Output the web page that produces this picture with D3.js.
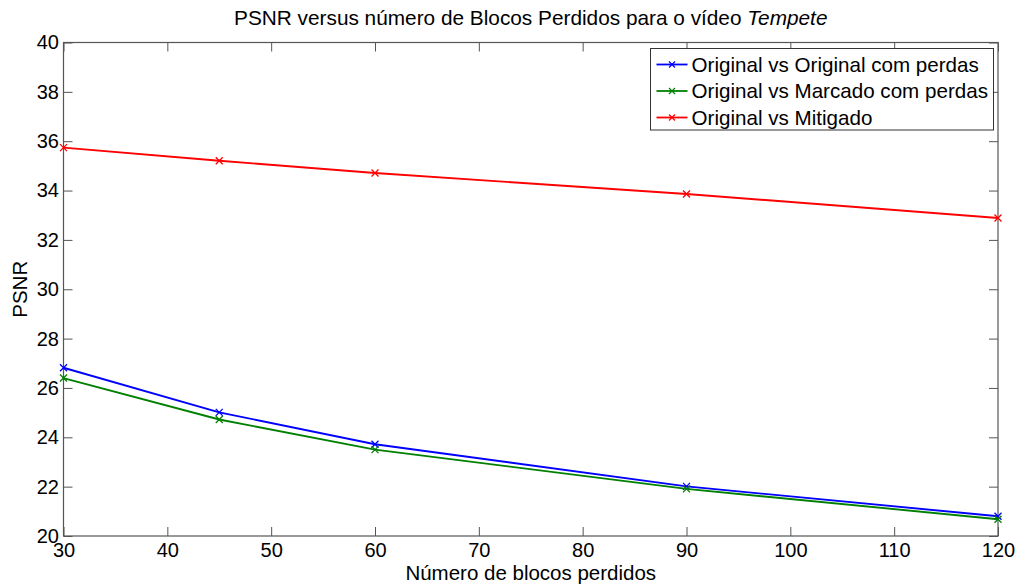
<!DOCTYPE html>
<html>
<head>
<meta charset="utf-8">
<script src="https://cdn.jsdelivr.net/npm/d3@7"></script>
<style>
  html, body { margin: 0; padding: 0; background: #fff; }
  text { font-family: "Liberation Sans", Arial, Helvetica, sans-serif; fill: #000; }
</style>
</head>
<body>
<svg id="chart" width="1020" height="585"></svg>
<script>
// Lost blocks (x axis)
const blocks = [30, 45, 60, 90, 120];
// PSNR series
const origVsOrigLoss = [26.82, 25.01, 23.72, 22.01, 20.80];
const origVsMarkedLoss = [26.40, 24.72, 23.50, 21.91, 20.68];
const origVsMitigated = [35.74, 35.21, 34.71, 33.86, 32.89];

const seriesNames = [
  "Original vs Original com perdas",
  "Original vs Marcado com perdas",
  "Original vs Mitigado"
];
const seriesColors = ["#0000ff", "#008000", "#ff0000"];
const seriesValues = [origVsOrigLoss, origVsMarkedLoss, origVsMitigated];

const xTicks = [30, 40, 50, 60, 70, 80, 90, 100, 110, 120];
const yTicks = [20, 22, 24, 26, 28, 30, 32, 34, 36, 38, 40];

const svg = d3.select("#chart");
const m = { left: 63.5, right: 998, top: 42.5, bottom: 536 };

const x = d3.scaleLinear().domain([30, 120]).range([m.left, m.right]);
const y = d3.scaleLinear().domain([20, 40]).range([m.bottom, m.top]);

const axisColor = "#555";
const tickLen = 9;
const fontSize = 20;
const labelSize = 20.5;

// Axes box with mirrored ticks
const g = svg.append("g");

function styleAxis(sel) {
  sel.select(".domain").remove();
  sel.selectAll(".tick line").attr("stroke", axisColor).attr("stroke-width", 1);
  sel.selectAll(".tick text")
    .style("font-size", fontSize + "px")
    .attr("fill", "#000");
}

g.append("g")
  .attr("transform", `translate(0,${m.bottom})`)
  .call(d3.axisBottom(x).tickValues(xTicks).tickSizeInner(-tickLen).tickSizeOuter(0).tickPadding(7))
  .call(styleAxis);

g.append("g")
  .attr("transform", `translate(0,${m.top})`)
  .call(d3.axisTop(x).tickValues(xTicks).tickSizeInner(-tickLen).tickSizeOuter(0).tickFormat(""))
  .call(styleAxis);

g.append("g")
  .attr("transform", `translate(${m.left},0)`)
  .call(d3.axisLeft(y).tickValues(yTicks).tickSizeInner(-tickLen).tickSizeOuter(0).tickPadding(4.5))
  .call(styleAxis);

g.append("g")
  .attr("transform", `translate(${m.right},0)`)
  .call(d3.axisRight(y).tickValues(yTicks).tickSizeInner(-tickLen).tickSizeOuter(0).tickFormat(""))
  .call(styleAxis);

g.append("rect")
  .attr("x", m.left).attr("y", m.top)
  .attr("width", m.right - m.left).attr("height", m.bottom - m.top)
  .attr("fill", "none").attr("stroke", axisColor).attr("stroke-width", 1.2);

// Series lines and x markers
const line = d3.line().x((d, i) => x(blocks[i])).y(d => y(d));
const mk = 3.5;

seriesValues.forEach((vals, s) => {
  svg.append("path")
    .datum(vals)
    .attr("d", line)
    .attr("fill", "none")
    .attr("stroke", seriesColors[s])
    .attr("stroke-width", 1.9);
  svg.append("g").selectAll("path")
    .data(vals)
    .join("path")
    .attr("d", (d, i) => {
      const cx = x(blocks[i]), cy = y(d);
      return `M${cx - mk},${cy - mk}L${cx + mk},${cy + mk}M${cx - mk},${cy + mk}L${cx + mk},${cy - mk}`;
    })
    .attr("stroke", seriesColors[s])
    .attr("stroke-width", 1.3)
    .attr("fill", "none");
});

// Legend
const lg = svg.append("g");
lg.append("rect")
  .attr("x", 650.5).attr("y", 48.5).attr("width", 343).attr("height", 81.5)
  .attr("fill", "#fff").attr("stroke", "#333").attr("stroke-width", 1);
seriesNames.forEach((name, s) => {
  const ly = 64.5 + s * 26.5;
  lg.append("line")
    .attr("x1", 656.5).attr("x2", 687.5).attr("y1", ly).attr("y2", ly)
    .attr("stroke", seriesColors[s]).attr("stroke-width", 1.8);
  const cx = 672;
  lg.append("path")
    .attr("d", `M${cx - 3},${ly - 3}L${cx + 3},${ly + 3}M${cx - 3},${ly + 3}L${cx + 3},${ly - 3}`)
    .attr("stroke", seriesColors[s]).attr("stroke-width", 1.2);
  lg.append("text")
    .attr("x", 691.5).attr("y", ly)
    .attr("dy", "0.36em")
    .style("font-size", "20.6px")
    .text(name);
});

// Title
const title = svg.append("text")
  .attr("x", (m.left + m.right) / 2).attr("y", 25)
  .attr("text-anchor", "middle")
  .style("font-size", "20.8px");
title.append("tspan").text("PSNR versus número de Blocos Perdidos para o vídeo ");
title.append("tspan").style("font-style", "italic").text("Tempete");

// Axis labels
svg.append("text")
  .attr("x", (m.left + m.right) / 2).attr("y", 580)
  .attr("text-anchor", "middle")
  .style("font-size", labelSize + "px")
  .text("Número de blocos perdidos");

svg.append("text")
  .attr("transform", `translate(27,${(m.top + m.bottom) / 2}) rotate(-90)`)
  .attr("text-anchor", "middle")
  .style("font-size", labelSize + "px")
  .text("PSNR");
</script>
</body>
</html>
